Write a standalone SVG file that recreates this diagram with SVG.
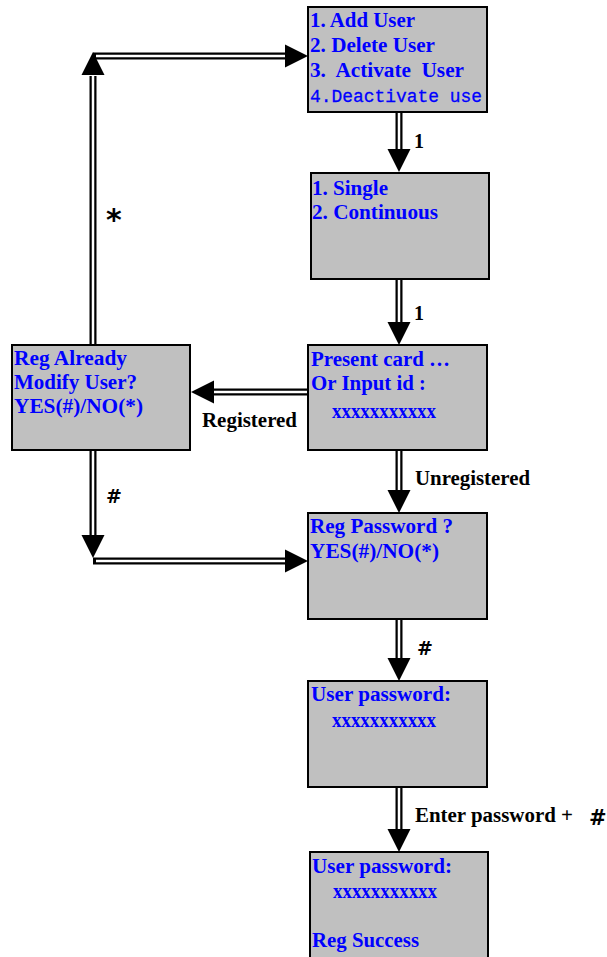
<svg xmlns="http://www.w3.org/2000/svg" xmlns:xlink="http://www.w3.org/1999/xlink" width="607" height="957" viewBox="0 0 607 957">
<style>
.box{fill:#c0c0c0;stroke:#000;stroke-width:2}
.t{font-family:"Liberation Serif","Times New Roman",serif;font-weight:bold;font-size:20px;fill:#0000ff}
.m{font-family:"Liberation Mono","Courier New",monospace;font-size:19px;fill:#0000ff;stroke:#0000ff;stroke-width:0.3}
.lbl{font-family:"Liberation Serif","Times New Roman",serif;font-weight:bold;font-size:20px;fill:#000}
.sym{font-family:"DejaVu Sans","Liberation Sans",sans-serif;font-weight:bold;fill:#000}
.outer{fill:none;stroke:#000;stroke-width:7}
.inner{fill:none;stroke:#fff;stroke-width:2.5}
.ah{fill:#000}
</style>
<defs>
<path id="ahd" class="ah" d="M-11.5,-23 L11.5,-23 L0,0 Z"/>
</defs>
<rect width="607" height="957" fill="#fff"/>
<g id="connectors">
<path class="outer" d="M399,112V150 M399,280V323 M308,392H213 M399,451V491 M399,619V659 M399,787V830 M93,345V76 M93,56H287 M93,451V536 M93,561H287"/>
<path class="inner" d="M399,112V150 M399,280V323 M308,392H213 M399,451V491 M399,619V659 M399,787V830 M93,345V76 M96,56H287 M93,451V536 M96,561H287"/>
<use xlink:href="#ahd" transform="translate(399,172)"/>
<use xlink:href="#ahd" transform="translate(399,345)"/>
<use xlink:href="#ahd" transform="translate(191,392) rotate(90)"/>
<use xlink:href="#ahd" transform="translate(399,513)"/>
<use xlink:href="#ahd" transform="translate(399,681)"/>
<use xlink:href="#ahd" transform="translate(399,852)"/>
<use xlink:href="#ahd" transform="translate(93,52) rotate(180)"/>
<use xlink:href="#ahd" transform="translate(308,56) rotate(-90)"/>
<use xlink:href="#ahd" transform="translate(93,558)"/>
<use xlink:href="#ahd" transform="translate(308,561) rotate(-90)"/>
<text class="lbl" x="414" y="148">1</text>
<text class="lbl" x="414" y="320">1</text>
<text class="sym" x="106" y="230" font-size="30">*</text>
<text class="lbl" x="202" y="427" textLength="95" lengthAdjust="spacingAndGlyphs">Registered</text>
<text class="lbl" x="415" y="485" textLength="115" lengthAdjust="spacingAndGlyphs">Unregistered</text>
<text class="sym" x="106" y="503" font-size="19">#</text>
<text class="sym" x="417" y="655" font-size="19">#</text>
<text class="lbl" x="415" y="822" textLength="158" lengthAdjust="spacingAndGlyphs">Enter password +</text>
<text class="sym" x="589" y="825" font-size="21">#</text>
</g>
<g id="menu">
<rect class="box" x="308" y="7" width="179" height="105"/>
<text class="t" x="310" y="27" textLength="105" lengthAdjust="spacingAndGlyphs">1. Add User</text>
<text class="t" x="310" y="52" textLength="125" lengthAdjust="spacingAndGlyphs">2. Delete User</text>
<text class="t" x="310" y="77" textLength="154" lengthAdjust="spacingAndGlyphs" xml:space="preserve">3.  Activate  User</text>
<text class="m" x="310" y="102" textLength="172" lengthAdjust="spacingAndGlyphs">4.Deactivate use</text>
</g>
<g id="mode">
<rect class="box" x="311" y="173" width="178" height="106"/>
<text class="t" x="312" y="195" textLength="76" lengthAdjust="spacingAndGlyphs">1. Single</text>
<text class="t" x="312" y="219" textLength="126" lengthAdjust="spacingAndGlyphs">2. Continuous</text>
</g>
<g id="present">
<rect class="box" x="308" y="345" width="179" height="105"/>
<text class="t" x="311" y="366" textLength="139" lengthAdjust="spacingAndGlyphs">Present card …</text>
<text class="t" x="311" y="390" textLength="103" lengthAdjust="spacingAndGlyphs">Or Input id</text>
<text class="t" x="419" y="390">:</text>
<text class="t" x="332" y="418" textLength="104" lengthAdjust="spacingAndGlyphs">xxxxxxxxxxx</text>
</g>
<g id="regalready">
<rect class="box" x="12" y="345" width="178" height="105"/>
<text class="t" x="14" y="365" textLength="113" lengthAdjust="spacingAndGlyphs">Reg Already</text>
<text class="t" x="14" y="389" textLength="123" lengthAdjust="spacingAndGlyphs">Modify User?</text>
<text class="t" x="14" y="413" textLength="129" lengthAdjust="spacingAndGlyphs">YES(#)/NO(*)</text>
</g>
<g id="regpassword">
<rect class="box" x="308" y="513" width="179" height="106"/>
<text class="t" x="310" y="533" textLength="143" lengthAdjust="spacingAndGlyphs">Reg Password ?</text>
<text class="t" x="310" y="558" textLength="129" lengthAdjust="spacingAndGlyphs">YES(#)/NO(*)</text>
</g>
<g id="userpassword">
<rect class="box" x="308" y="681" width="179" height="106"/>
<text class="t" x="311" y="701" textLength="140" lengthAdjust="spacingAndGlyphs">User password:</text>
<text class="t" x="332" y="727" textLength="104" lengthAdjust="spacingAndGlyphs">xxxxxxxxxxx</text>
</g>
<g id="success">
<rect class="box" x="310" y="852" width="178" height="110"/>
<text class="t" x="312" y="873" textLength="140" lengthAdjust="spacingAndGlyphs">User password:</text>
<text class="t" x="333" y="898" textLength="104" lengthAdjust="spacingAndGlyphs">xxxxxxxxxxx</text>
<text class="t" x="312" y="947" textLength="107" lengthAdjust="spacingAndGlyphs">Reg Success</text>
</g>
</svg>
